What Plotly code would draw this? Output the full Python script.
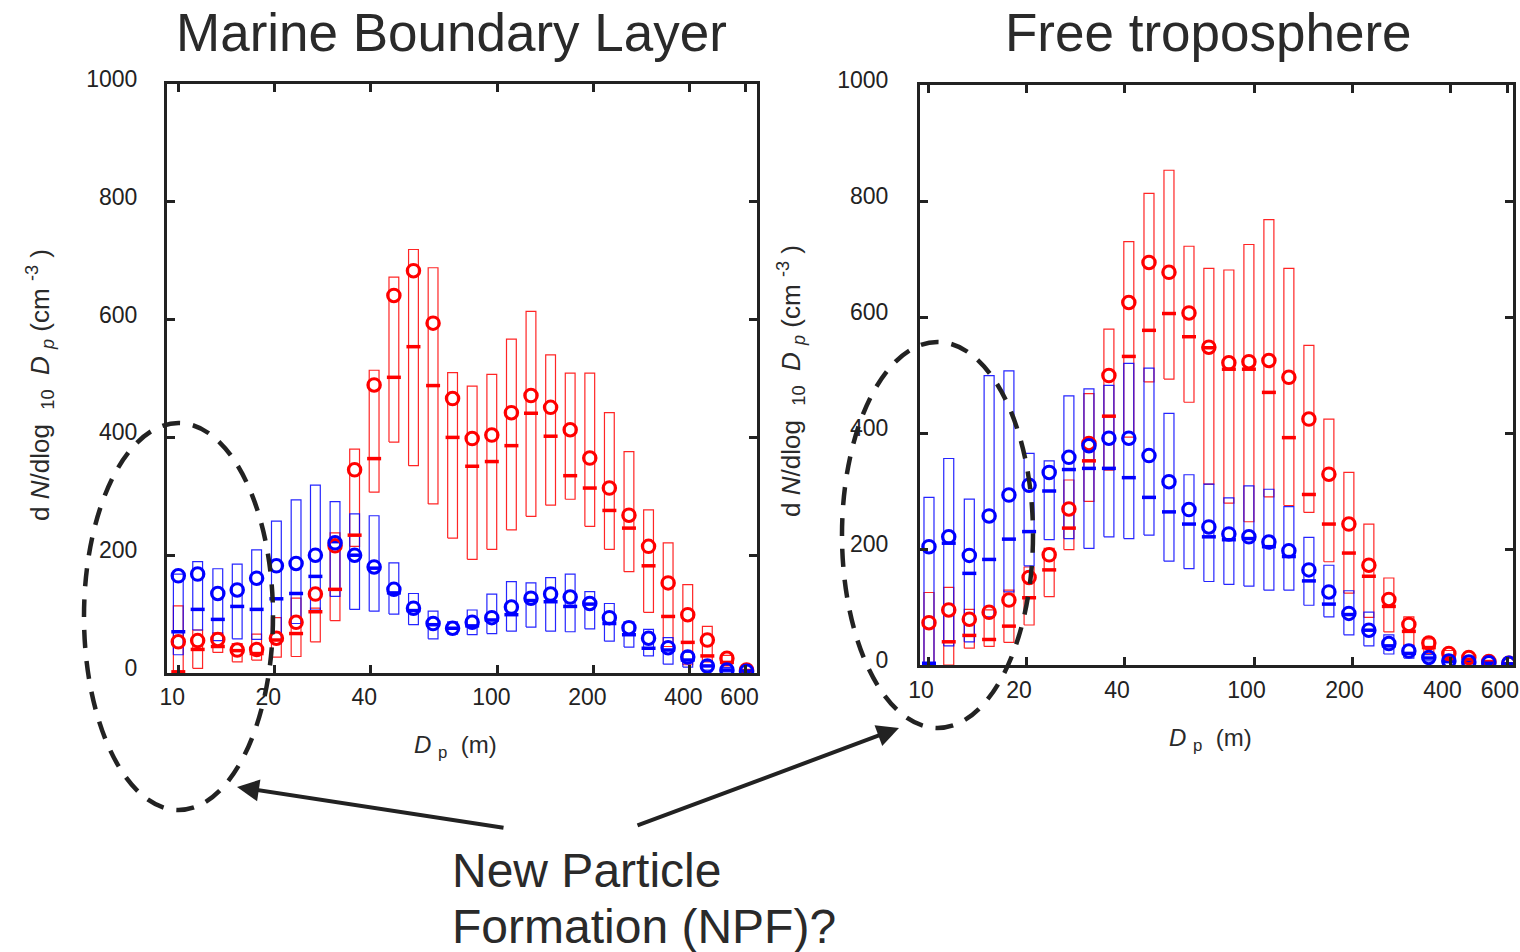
import plotly.graph_objects as go

# ---------------- data ----------------
# particle diameter bins (nm)
diam = [10.0, 11.5, 13.3, 15.3, 17.6, 20.3, 23.4, 26.9, 31.0, 35.7,
        41.1, 47.4, 54.6, 62.9, 72.4, 83.4, 96.1, 110.7, 127.5, 146.9,
        169.2, 194.9, 224.5, 258.6, 297.9, 343.1, 395.3, 455.3, 524.5, 604.2]

x_tickvals = [10, 20, 40, 100, 200, 400, 600]
x_ticktext = ["10", "20", "40", "100", "200", "400", "600"]
y_tickvals = [0, 200, 400, 600, 800, 1000]

# Marine boundary layer - red series
mbl_red_mean = [53, 55, 57, 39, 40, 59, 86, 134, 216, 345, 489, 641, 683, 594, 466,
                398, 404, 442, 471, 451, 413, 365, 314, 268, 215, 153, 99, 56, 25, 5]
mbl_red_med = [2, 40, 45, 38, 33, 56, 67, 104, 142, 234, 364, 502, 554, 488, 400,
               351, 359, 386, 441, 402, 335, 314, 276, 246, 182, 96, 52, 29, 18, 3]
mbl_red_q75 = [114, 73, 68, 50, 66, 94, 127, 110, 238, 380, 514, 672, 719, 688, 510,
               487, 507, 567, 614, 540, 509, 509, 442, 376, 277, 221, 150, 79, 30, 6]
mbl_red_q25 = [0, 8, 35, 19, 22, 27, 28, 53, 89, 215, 307, 392, 352, 287, 229,
               193, 210, 243, 266, 285, 295, 249, 210, 172, 103, 45, 14, 19, 12, 2]

# Marine boundary layer - blue series
mbl_blue_mean = [165, 168, 135, 141, 161, 182, 186, 200, 221, 200, 180, 142, 110, 84, 76,
                 86, 94, 112, 127, 134, 129, 118, 94, 77, 59, 43, 27, 12, 5, 3]
mbl_blue_med = [70, 108, 91, 113, 108, 126, 135, 164, 223, 200, 178, 136, 106, 82, 76,
                80, 90, 99, 123, 121, 113, 117, 84, 65, 42, 39, 22, 12, 5, 3]
mbl_blue_q75 = [168, 189, 177, 185, 209, 258, 294, 319, 291, 270, 267, 187, 135, 105, 87,
                107, 134, 155, 153, 162, 168, 138, 118, 87, 74, 60, 35, 20, 9, 5]
mbl_blue_q25 = [31, 73, 55, 58, 57, 50, 84, 107, 130, 108, 105, 100, 82, 58, 66,
                65, 67, 71, 78, 71, 70, 75, 54, 44, 29, 15, 10, 5, 2, 1]

# Free troposphere - red series
ft_red_mean = [73, 95, 79, 91, 112, 151, 190, 269, 382, 499, 625, 694, 677, 607, 548,
               521, 523, 525, 496, 424, 329, 243, 172, 113, 70, 38, 20, 13, 6, 3]
ft_red_med = [0, 40, 51, 44, 67, 116, 164, 236, 352, 429, 532, 577, 606, 566, 547,
              510, 510, 470, 392, 294, 243, 193, 153, 101, 58, 30, 15, 10, 5, 2]
ft_red_q75 = [125, 134, 96, 95, 129, 169, 201, 319, 468, 579, 730, 813, 853, 722, 684,
              681, 725, 768, 684, 551, 424, 332, 243, 150, 83, 45, 25, 15, 8, 4]
ft_red_q25 = [0, 0, 29, 32, 39, 69, 118, 199, 282, 336, 393, 488, 493, 453, 312,
              279, 247, 290, 275, 263, 178, 124, 82, 57, 34, 20, 10, 6, 3, 1]

# Free troposphere - blue series
ft_blue_mean = [204, 221, 189, 257, 293, 310, 332, 358, 378, 391, 391, 361, 316, 268, 238,
                226, 221, 212, 197, 164, 126, 89, 60, 37, 24, 13, 7, 5, 4, 3]
ft_blue_med = [3, 210, 158, 182, 217, 230, 300, 337, 339, 339, 323, 289, 264, 243, 221,
               216, 218, 204, 187, 145, 105, 87, 60, 33, 20, 12, 6, 4, 3, 2]
ft_blue_q75 = [289, 356, 286, 499, 507, 365, 352, 464, 476, 482, 520, 512, 434, 328, 312,
               288, 309, 303, 273, 220, 172, 128, 91, 52, 34, 18, 10, 7, 5, 4]
ft_blue_q25 = [0, 33, 40, 83, 126, 171, 216, 218, 201, 221, 218, 224, 179, 166, 144,
               139, 136, 129, 129, 103, 83, 52, 33, 19, 12, 7, 4, 3, 2, 1]

# ---------------- styling ----------------
W, H = 1520, 952
FONT = "Liberation Sans, Arial, Helvetica, sans-serif"
INK = "#222222"
RED = "#ff0000"
BLUE = "#0000ff"
HALF = 1.036  # multiplicative half width of boxes on the log axis
NB = "\u00a0"


def box_outline(q25, q75):
    xs, ys = [], []
    for d, lo, hi in zip(diam, q25, q75):
        xs += [d / HALF, d * HALF, d * HALF, d / HALF, d / HALF, None]
        ys += [lo, lo, hi, hi, lo, None]
    return xs, ys


def add_panel(fig, xa, ya, red, blue):
    for (mean, med, q75, q25), col in ((red, RED), (blue, BLUE)):
        bx, by = box_outline(q25, q75)
        fig.add_trace(go.Scatter(x=bx, y=by, mode="lines", xaxis=xa, yaxis=ya,
                                 line=dict(color=col, width=1.2), opacity=0.85,
                                 showlegend=False, hoverinfo="skip"))
    for (mean, med, q75, q25), col in ((red, RED), (blue, BLUE)):
        fig.add_trace(go.Scatter(x=diam, y=med, mode="markers", xaxis=xa, yaxis=ya,
                                 marker=dict(symbol="line-ew", size=10,
                                             line=dict(color=col, width=3.5)),
                                 showlegend=False))
    for (mean, med, q75, q25), col in ((red, RED), (blue, BLUE)):
        fig.add_trace(go.Scatter(x=diam, y=mean, mode="markers", xaxis=xa, yaxis=ya,
                                 marker=dict(symbol="circle-open", size=12.5, color=col,
                                             line=dict(color=col, width=3)),
                                 showlegend=False))


fig = go.Figure()
add_panel(fig, "x", "y",
          (mbl_red_mean, mbl_red_med, mbl_red_q75, mbl_red_q25),
          (mbl_blue_mean, mbl_blue_med, mbl_blue_q75, mbl_blue_q25))
add_panel(fig, "x2", "y2",
          (ft_red_mean, ft_red_med, ft_red_q75, ft_red_q25),
          (ft_blue_mean, ft_blue_med, ft_blue_q75, ft_blue_q25))


def px(x):
    return x / W


def py(y):
    return 1 - y / H


axis_common = dict(showline=True, linewidth=3, linecolor=INK, mirror="allticks",
                   ticks="inside", ticklen=8, tickwidth=2.5, tickcolor=INK,
                   showgrid=False, zeroline=False, automargin=False,
                   ticklabeloverflow="allow",
                   tickfont=dict(family=FONT, size=23, color=INK))

fig.update_layout(
    template="none",
    width=W, height=H, autosize=False,
    margin=dict(l=0, r=0, t=0, b=0, pad=0, autoexpand=False),
    paper_bgcolor="white", plot_bgcolor="white", showlegend=False,
    xaxis=dict(type="log", domain=[px(167), px(757)], range=[0.9646, 2.814], anchor="y",
               tickvals=x_tickvals, ticktext=x_ticktext, ticklabelstandoff=1,
               ticklabelshift=-6, **axis_common),
    yaxis=dict(domain=[py(673), py(84)], range=[0, 1000], anchor="x",
               tickvals=y_tickvals, ticklabelstandoff=22, ticklabelshift=-5, **axis_common),
    xaxis2=dict(type="log", domain=[px(920), px(1513)], range=[0.9724, 2.794], anchor="y2",
                tickvals=x_tickvals, ticktext=x_ticktext, ticklabelstandoff=2,
                ticklabelshift=-8, **axis_common),
    yaxis2=dict(domain=[py(665), py(85)], range=[0, 1000], anchor="x2",
                tickvals=y_tickvals, ticklabelstandoff=24, ticklabelshift=-5, **axis_common),
)

ylab = ("d <i>N</i>/dlog" + NB * 2 + "<sub>10</sub>" + NB * 2 + "<i>D</i>" + NB
        + "<sub><i>p</i></sub>" + NB + "(cm" + NB + "<sup>-3</sup>" + NB + ")")
xlab = "<i>D</i>" + NB + "<sub>p</sub>" + NB * 2 + "(m)"

annotations = [
    dict(text="Marine Boundary Layer", x=px(452), y=py(33), font=dict(size=53)),
    dict(text="Free troposphere", x=px(1208), y=py(33), font=dict(size=53)),
    dict(text=ylab, x=px(40), y=py(385), textangle=-90, font=dict(size=26)),
    dict(text=ylab, x=px(791), y=py(381), textangle=-90, font=dict(size=26)),
    dict(text=xlab, x=px(455), y=py(746), font=dict(size=24)),
    dict(text=xlab, x=px(1210), y=py(739), font=dict(size=24)),
    dict(text="New Particle", x=px(450), y=py(870), xanchor="left", font=dict(size=48)),
    dict(text="Formation (NPF)?", x=px(450), y=py(926), xanchor="left", font=dict(size=48)),
]
for a in annotations:
    a.setdefault("xanchor", "center")
    a.update(xref="paper", yref="paper", yanchor="middle", showarrow=False)
    a["font"].update(family=FONT, color="#2a2a2a")

# arrows
annotations.append(dict(x=px(237), y=py(787), xref="paper", yref="paper", text="",
                        showarrow=True, ax=268, ay=41, axref="pixel", ayref="pixel",
                        arrowhead=2, arrowsize=1.1, arrowwidth=4, arrowcolor=INK))
annotations.append(dict(x=px(899), y=py(728), xref="paper", yref="paper", text="",
                        showarrow=True, ax=-263, ay=98, axref="pixel", ayref="pixel",
                        arrowhead=2, arrowsize=1.1, arrowwidth=4, arrowcolor=INK))
fig.update_layout(annotations=annotations)

# dashed ellipses
fig.add_shape(type="circle", xref="paper", yref="paper",
              x0=px(84), x1=px(273), y0=py(810), y1=py(423),
              line=dict(color=INK, width=4.5, dash="18px,13px"), layer="above")
fig.add_shape(type="circle", xref="paper", yref="paper",
              x0=px(842), x1=px(1033), y0=py(728), y1=py(342),
              line=dict(color=INK, width=4.5, dash="18px,13px"), layer="above")

fig.write_html("out.html")
